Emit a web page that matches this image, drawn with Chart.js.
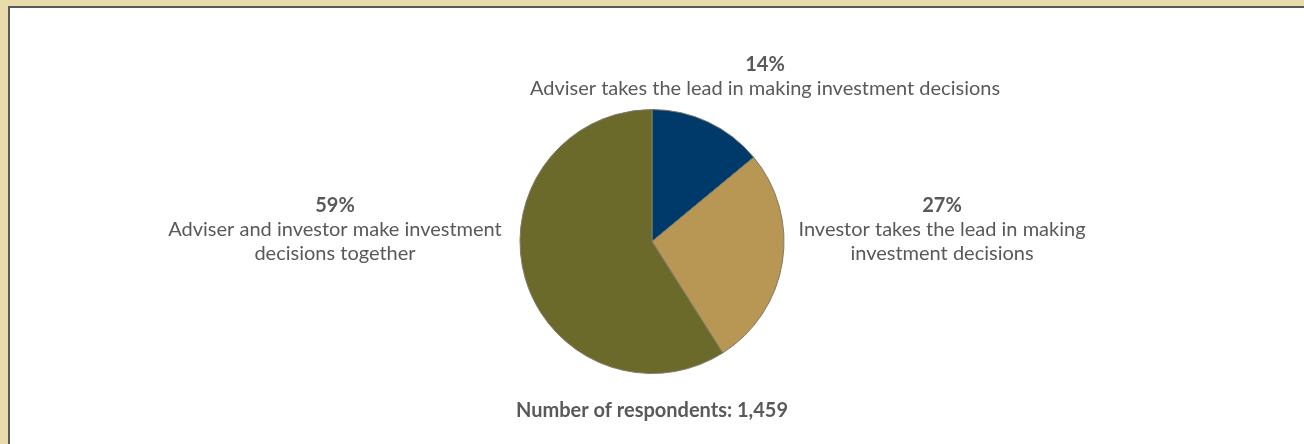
<!DOCTYPE html>
<html>
<head>
<meta charset="utf-8">
<script src="https://cdn.jsdelivr.net/npm/chart.js@4"></script>
<style>
  html, body { margin: 0; padding: 0; }
  body { width: 1304px; height: 444px; background: #e8dcab; position: relative; overflow: hidden; }
  #frame { position: absolute; left: 8px; top: 6px; right: 0; bottom: 0; background: #fff;
           border-left: 2px solid #58595b; border-top: 2px solid #58595b; }
  #wrap { position: absolute; left: 0; top: 0; width: 1304px; height: 444px; }
</style>
</head>
<body>
<div id="frame"></div>
<div id="wrap"><canvas id="c" width="1304" height="444"></canvas></div>
<script>
// ---- data ----
const percentLabels = ['14%', '27%', '59%'];
const categoryLines = [
  ['Adviser takes the lead in making investment decisions'],
  ['Investor takes the lead in making', 'investment decisions'],
  ['Adviser and investor make investment', 'decisions together']
];
const shareValues = [14, 27, 59];
const sliceColors = ['#003a6b', '#b89653', '#6b6a2b'];
const footnoteText = 'Number of respondents: 1,459';

// ---- label placement (style, relative to pie centre) ----
const labelAnchors = [
  { dx: 113, dy: -177 },
  { dx: 290, dy: -36 },
  { dx: -317, dy: -36 }
];

const textColor = '#58595b';
const fontFamily = 'Lato, "Open Sans", sans-serif';

const labelPlugin = {
  id: 'pieLabels',
  afterDraw(chart) {
    const ctx = chart.ctx;
    const arc = chart.getDatasetMeta(0).data[0];
    const cx = arc.x, cy = arc.y, r = arc.outerRadius;
    ctx.save();
    ctx.fillStyle = textColor;
    ctx.textAlign = 'center';
    ctx.textBaseline = 'middle';
    percentLabels.forEach((p, i) => {
      const a = labelAnchors[i];
      const x = cx + a.dx, y = cy + a.dy;
      ctx.font = 'bold 20px ' + fontFamily;
      ctx.fillText(p, x, y);
      ctx.font = '20px ' + fontFamily;
      categoryLines[i].forEach((line, j) => {
        ctx.fillText(line, x, y + 24 * (j + 1));
      });
    });
    ctx.font = 'bold 20px ' + fontFamily;
    ctx.fillText(footnoteText, cx, cy + r + 37);
    ctx.restore();
  }
};

new Chart(document.getElementById('c'), {
  type: 'pie',
  data: {
    labels: categoryLines.map(l => l.join(' ')),
    datasets: [{
      data: shareValues,
      backgroundColor: sliceColors,
      borderColor: '#7d7b6a',
      borderWidth: 1
    }]
  },
  options: {
    responsive: false,
    animation: false,
    layout: { padding: { left: 519, right: 519, top: 109, bottom: 70 } },
    plugins: {
      legend: { display: false },
      tooltip: { enabled: false },
      title: { display: false }
    }
  },
  plugins: [labelPlugin]
});
</script>
</body>
</html>
